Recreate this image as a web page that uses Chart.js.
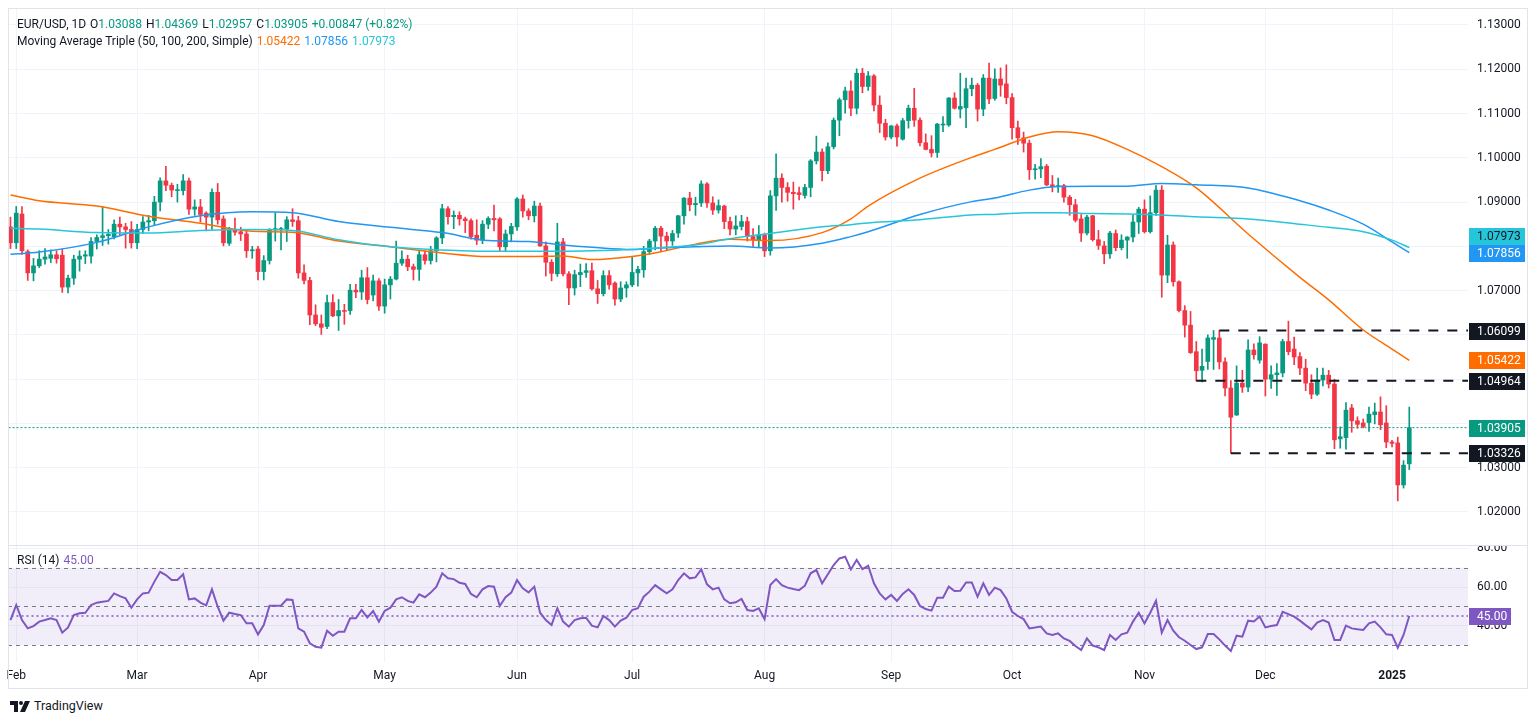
<!DOCTYPE html>
<html lang="en">
<head>
<meta charset="utf-8">
<title>EUR/USD, 1D</title>
<script src="https://cdn.jsdelivr.net/npm/chart.js@4.4.1/dist/chart.umd.min.js"></script>
<style>
  html, body { margin: 0; padding: 0; background: #ffffff; }
  body { position: relative; width: 1536px; height: 723px; overflow: hidden;
         font-family: Roboto, "Noto Sans", sans-serif; color: #131722; }
  .pane { position: absolute; left: 0; width: 1536px; }
  #mainPane { top: 0; height: 546px; }
  #rsiPane { top: 546px; height: 144px; }
  #frame { position: absolute; left: 8px; top: 8px; width: 1518px; height: 679px;
           border: 1px solid #e0e3eb; pointer-events: none; }
  #split { position: absolute; left: 8px; top: 545px; width: 1519px; height: 1px; background: #e0e3eb; }
  .legend { position: absolute; left: 17px; font-size: 12px; line-height: 16px; white-space: nowrap;
            display: flex; gap: 4px; }
  #logo { position: absolute; left: 10px; top: 698px; font-size: 12.5px; line-height: 16px;
          display: flex; align-items: center; gap: 4px; }
</style>
</head>
<body>
<div class="pane" id="mainPane"><canvas id="mainChart"></canvas></div>
<div class="pane" id="rsiPane"><canvas id="rsiChart"></canvas></div>
<div id="frame"></div>
<div id="split"></div>
<div class="legend" id="legendPrice" style="top:16px"></div>
<div class="legend" id="legendMa" style="top:33px"></div>
<div class="legend" id="legendRsi" style="top:552px"></div>
<div id="logo">
  <svg width="20" height="11" viewBox="0 0 20 11"><path d="M0 0h8v11H4V4H0z" fill="#131722"/><circle cx="11" cy="2" r="2" fill="#131722"/><path d="M15 0h5l-5 11h-5z" fill="#131722"/></svg>
  <span>TradingView</span>
</div>
<script>
// daily candles, one per weekday from 31 Jan 2024 to 6 Jan 2025
const opens = [
  1.0844, 1.0808, 1.0873, 1.0788, 1.0740, 1.0756, 1.0771, 1.0773, 1.0781, 1.0780,
  1.0708, 1.0728, 1.0771, 1.0778, 1.0778, 1.0811, 1.0820, 1.0824, 1.0822, 1.0850,
  1.0844, 1.0838, 1.0808, 1.0838, 1.0855, 1.0858, 1.0900, 1.0948, 1.0938, 1.0926,
  1.0926, 1.0948, 1.0884, 1.0889, 1.0875, 1.0866, 1.0922, 1.0862, 1.0807, 1.0838,
  1.0833, 1.0828, 1.0790, 1.0794, 1.0743, 1.0768, 1.0837, 1.0838, 1.0839, 1.0860,
  1.0858, 1.0740, 1.0723, 1.0645, 1.0625, 1.0619, 1.0673, 1.0643, 1.0655, 1.0655,
  1.0701, 1.0697, 1.0729, 1.0690, 1.0722, 1.0665, 1.0713, 1.0726, 1.0762, 1.0771,
  1.0754, 1.0748, 1.0781, 1.0768, 1.0790, 1.0819, 1.0885, 1.0867, 1.0870, 1.0862,
  1.0858, 1.0825, 1.0814, 1.0850, 1.0863, 1.0862, 1.0799, 1.0828, 1.0844, 1.0907,
  1.0880, 1.0869, 1.0891, 1.0801, 1.0764, 1.0738, 1.0810, 1.0738, 1.0706, 1.0736,
  1.0741, 1.0745, 1.0704, 1.0693, 1.0734, 1.0717, 1.0681, 1.0706, 1.0713, 1.0740,
  1.0747, 1.0788, 1.0812, 1.0841, 1.0823, 1.0812, 1.0830, 1.0869, 1.0909, 1.0894,
  1.0898, 1.0941, 1.0898, 1.0882, 1.0891, 1.0856, 1.0839, 1.0845, 1.0856, 1.0822,
  1.0815, 1.0826, 1.0790, 1.0914, 1.0954, 1.0933, 1.0922, 1.0921, 1.0915, 1.0933,
  1.0993, 1.1013, 1.0971, 1.1025, 1.1085, 1.1131, 1.1151, 1.1112, 1.1191, 1.1161,
  1.1185, 1.1119, 1.1078, 1.1047, 1.1072, 1.1042, 1.1084, 1.1112, 1.1085, 1.1034,
  1.1019, 1.1012, 1.1074, 1.1074, 1.1135, 1.1110, 1.1113, 1.1156, 1.1164, 1.1110,
  1.1180, 1.1134, 1.1178, 1.1167, 1.1136, 1.1068, 1.1045, 1.1033, 1.0973, 1.0975,
  1.0981, 1.0939, 1.0935, 1.0937, 1.0911, 1.0894, 1.0862, 1.0830, 1.0869, 1.0815,
  1.0801, 1.0783, 1.0829, 1.0797, 1.0814, 1.0821, 1.0855, 1.0884, 1.0833, 1.0876,
  1.0927, 1.0735, 1.0803, 1.0720, 1.0655, 1.0622, 1.0562, 1.0520, 1.0540, 1.0590,
  1.0593, 1.0539, 1.0480, 1.0419, 1.0491, 1.0482, 1.0566, 1.0543, 1.0579, 1.0500,
  1.0510, 1.0514, 1.0585, 1.0568, 1.0551, 1.0525, 1.0491, 1.0466, 1.0498, 1.0509,
  1.0489, 1.0365, 1.0368, 1.0435, 1.0406, 1.0401, 1.0402, 1.0420, 1.0426, 1.0401,
  1.0358, 1.0356, 1.0261, 1.03088
];
const highs = [
  1.0866, 1.0890, 1.0890, 1.0792, 1.0773, 1.0790, 1.0795, 1.0792, 1.0790, 1.0794,
  1.0735, 1.0780, 1.0790, 1.0790, 1.0820, 1.0826, 1.0889, 1.0838, 1.0860, 1.0866,
  1.0852, 1.0856, 1.0850, 1.0867, 1.0870, 1.0913, 1.0955, 1.0981, 1.0943, 1.0940,
  1.0962, 1.0954, 1.0905, 1.0906, 1.0878, 1.0930, 1.0942, 1.0869, 1.0843, 1.0864,
  1.0843, 1.0836, 1.0800, 1.0800, 1.0779, 1.0840, 1.0876, 1.0843, 1.0867, 1.0885,
  1.0868, 1.0758, 1.0730, 1.0668, 1.0645, 1.0690, 1.0691, 1.0680, 1.0669, 1.0714,
  1.0714, 1.0746, 1.0752, 1.0735, 1.0727, 1.0726, 1.0732, 1.0812, 1.0790, 1.0780,
  1.0760, 1.0790, 1.0790, 1.0800, 1.0822, 1.0895, 1.0890, 1.0880, 1.0878, 1.0866,
  1.0862, 1.0860, 1.0858, 1.0867, 1.0893, 1.0865, 1.0837, 1.0852, 1.0910, 1.0916,
  1.0885, 1.0902, 1.0898, 1.0810, 1.0770, 1.0852, 1.0818, 1.0743, 1.0746, 1.0760,
  1.0761, 1.0762, 1.0723, 1.0745, 1.0745, 1.0720, 1.0720, 1.0720, 1.0776, 1.0755,
  1.0800, 1.0816, 1.0845, 1.0845, 1.0832, 1.0836, 1.0870, 1.0910, 1.0922, 1.0911,
  1.0948, 1.0944, 1.0912, 1.0905, 1.0893, 1.0866, 1.0869, 1.0870, 1.0866, 1.0840,
  1.0847, 1.0830, 1.0926, 1.1009, 1.0964, 1.0944, 1.0945, 1.0934, 1.0940, 1.0996,
  1.1049, 1.1020, 1.1034, 1.1090, 1.1135, 1.1160, 1.1174, 1.1201, 1.1202, 1.1195,
  1.1188, 1.1140, 1.1087, 1.1073, 1.1076, 1.1089, 1.1119, 1.1157, 1.1090, 1.1054,
  1.1050, 1.1078, 1.1093, 1.1136, 1.1147, 1.1191, 1.1180, 1.1180, 1.1168, 1.1188,
  1.1214, 1.1201, 1.1203, 1.1210, 1.1145, 1.1083, 1.1058, 1.1040, 1.0985, 1.0998,
  1.0985, 1.0960, 1.0954, 1.0940, 1.0915, 1.0906, 1.0872, 1.0870, 1.0870, 1.0836,
  1.0811, 1.0834, 1.0837, 1.0826, 1.0822, 1.0871, 1.0888, 1.0905, 1.0914, 1.0937,
  1.0937, 1.0825, 1.0810, 1.0722, 1.0666, 1.0653, 1.0585, 1.0568, 1.0600, 1.0610,
  1.0610, 1.0548, 1.0497, 1.0530, 1.0520, 1.0589, 1.0580, 1.0596, 1.0580, 1.0530,
  1.0535, 1.0590, 1.0631, 1.0595, 1.0560, 1.0545, 1.0510, 1.0525, 1.0525, 1.0520,
  1.0500, 1.0392, 1.0447, 1.0443, 1.0415, 1.0410, 1.0437, 1.0446, 1.0460, 1.0440,
  1.0362, 1.0369, 1.0316, 1.04369
];
const lows = [
  1.0795, 1.0795, 1.0782, 1.0723, 1.0722, 1.0752, 1.0760, 1.0763, 1.0762, 1.0696,
  1.0695, 1.0714, 1.0744, 1.0761, 1.0762, 1.0794, 1.0802, 1.0805, 1.0817, 1.0826,
  1.0796, 1.0796, 1.0795, 1.0830, 1.0835, 1.0848, 1.0880, 1.0926, 1.0912, 1.0900,
  1.0916, 1.0872, 1.0870, 1.0855, 1.0835, 1.0838, 1.0850, 1.0801, 1.0802, 1.0825,
  1.0813, 1.0775, 1.0773, 1.0724, 1.0724, 1.0760, 1.0812, 1.0792, 1.0811, 1.0845,
  1.0728, 1.0715, 1.0623, 1.0621, 1.0601, 1.0614, 1.0641, 1.0610, 1.0624, 1.0646,
  1.0684, 1.0680, 1.0670, 1.0677, 1.0655, 1.0649, 1.0681, 1.0724, 1.0757, 1.0745,
  1.0724, 1.0723, 1.0760, 1.0760, 1.0765, 1.0806, 1.0850, 1.0840, 1.0848, 1.0831,
  1.0816, 1.0804, 1.0806, 1.0840, 1.0835, 1.0790, 1.0788, 1.0810, 1.0836, 1.0866,
  1.0860, 1.0855, 1.0800, 1.0733, 1.0722, 1.0732, 1.0733, 1.0668, 1.0690, 1.0709,
  1.0730, 1.0701, 1.0671, 1.0688, 1.0703, 1.0667, 1.0675, 1.0685, 1.0709, 1.0710,
  1.0730, 1.0782, 1.0792, 1.0790, 1.0792, 1.0802, 1.0820, 1.0850, 1.0880, 1.0870,
  1.0890, 1.0888, 1.0872, 1.0875, 1.0840, 1.0826, 1.0826, 1.0837, 1.0812, 1.0800,
  1.0799, 1.0777, 1.0780, 1.0881, 1.0900, 1.0902, 1.0884, 1.0905, 1.0909, 1.0912,
  1.0986, 1.0948, 1.0964, 1.1020, 1.1050, 1.1101, 1.1095, 1.1099, 1.1147, 1.1152,
  1.1106, 1.1057, 1.1040, 1.1043, 1.1026, 1.1040, 1.1067, 1.1071, 1.1027, 1.1018,
  1.1002, 1.1001, 1.1059, 1.1071, 1.1110, 1.1090, 1.1068, 1.1140, 1.1083, 1.1095,
  1.1122, 1.1130, 1.1139, 1.1122, 1.1042, 1.1030, 1.1013, 1.0951, 1.0952, 1.0955,
  1.0937, 1.0923, 1.0922, 1.0900, 1.0870, 1.0855, 1.0811, 1.0826, 1.0812, 1.0793,
  1.0761, 1.0773, 1.0790, 1.0792, 1.0773, 1.0810, 1.0829, 1.0830, 1.0830, 1.0870,
  1.0685, 1.0718, 1.0710, 1.0652, 1.0595, 1.0558, 1.0496, 1.0494, 1.0522, 1.0522,
  1.0523, 1.0462, 1.0333, 1.0418, 1.0470, 1.0472, 1.0545, 1.0536, 1.0462, 1.0479,
  1.0463, 1.0505, 1.0555, 1.0533, 1.0510, 1.0474, 1.0456, 1.0463, 1.0485, 1.0480,
  1.0343, 1.0344, 1.0342, 1.0380, 1.0389, 1.0390, 1.0382, 1.0399, 1.0386, 1.0345,
  1.0347, 1.0225, 1.0254, 1.02957
];
const closes = [
  1.0808, 1.0875, 1.0790, 1.0740, 1.0756, 1.0771, 1.0776, 1.0781, 1.0772, 1.0708,
  1.0728, 1.0771, 1.0778, 1.0781, 1.0811, 1.0820, 1.0824, 1.0827, 1.0850, 1.0844,
  1.0838, 1.0808, 1.0838, 1.0855, 1.0858, 1.0900, 1.0948, 1.0938, 1.0927, 1.0928,
  1.0948, 1.0884, 1.0889, 1.0872, 1.0866, 1.0922, 1.0860, 1.0808, 1.0840, 1.0832,
  1.0828, 1.0790, 1.0792, 1.0743, 1.0768, 1.0837, 1.0840, 1.0840, 1.0860, 1.0856,
  1.0740, 1.0723, 1.0645, 1.0625, 1.0617, 1.0673, 1.0643, 1.0655, 1.0653, 1.0701,
  1.0697, 1.0729, 1.0680, 1.0722, 1.0665, 1.0713, 1.0726, 1.0762, 1.0771, 1.0754,
  1.0748, 1.0781, 1.0768, 1.0790, 1.0819, 1.0885, 1.0867, 1.0870, 1.0862, 1.0858,
  1.0822, 1.0814, 1.0850, 1.0863, 1.0860, 1.0799, 1.0828, 1.0845, 1.0907, 1.0880,
  1.0869, 1.0891, 1.0801, 1.0764, 1.0739, 1.0810, 1.0738, 1.0706, 1.0736, 1.0741,
  1.0745, 1.0704, 1.0693, 1.0734, 1.0713, 1.0681, 1.0706, 1.0713, 1.0741, 1.0748,
  1.0788, 1.0812, 1.0841, 1.0823, 1.0812, 1.0829, 1.0869, 1.0909, 1.0894, 1.0897,
  1.0941, 1.0898, 1.0882, 1.0892, 1.0856, 1.0839, 1.0846, 1.0856, 1.0822, 1.0815,
  1.0826, 1.0790, 1.0914, 1.0954, 1.0933, 1.0922, 1.0919, 1.0917, 1.0933, 1.0993,
  1.1013, 1.0971, 1.1025, 1.1085, 1.1131, 1.1151, 1.1112, 1.1191, 1.1161, 1.1185,
  1.1119, 1.1078, 1.1047, 1.1072, 1.1047, 1.1084, 1.1112, 1.1085, 1.1034, 1.1019,
  1.1011, 1.1076, 1.1076, 1.1135, 1.1112, 1.1116, 1.1156, 1.1164, 1.1110, 1.1180,
  1.1133, 1.1178, 1.1164, 1.1136, 1.1068, 1.1045, 1.1033, 1.0973, 1.0975, 1.0980,
  1.0939, 1.0935, 1.0937, 1.0911, 1.0894, 1.0859, 1.0830, 1.0866, 1.0815, 1.0802,
  1.0783, 1.0830, 1.0797, 1.0814, 1.0821, 1.0855, 1.0884, 1.0833, 1.0876, 1.0927,
  1.0735, 1.0803, 1.0720, 1.0655, 1.0622, 1.0560, 1.0519, 1.0529, 1.0593, 1.0594,
  1.0539, 1.0480, 1.0414, 1.0491, 1.0482, 1.0566, 1.0555, 1.0582, 1.0500, 1.0510,
  1.0514, 1.0585, 1.0562, 1.0550, 1.0525, 1.0491, 1.0466, 1.0498, 1.0509, 1.0489,
  1.0363, 1.0370, 1.0430, 1.0406, 1.0398, 1.0393, 1.0421, 1.0426, 1.0397, 1.0358,
  1.0355, 1.0261, 1.03058, 1.03905
];

// RSI(14), one value per candle
const rsi14 = [
  42.9, 50.7, 42.9, 38.6, 39.8, 42.1, 42.9, 43.8, 42.9, 36.4,
  39.1, 45.5, 46.4, 46.7, 50.7, 51.9, 52.4, 52.8, 56.7, 55.3,
  54.1, 49.3, 53.6, 56.7, 57.1, 62.8, 67.9, 66.2, 63.6, 63.6,
  66.6, 53.6, 54.1, 51.9, 50.5, 58.8, 49.8, 42.6, 46.7, 46.0,
  45.5, 41.2, 41.2, 35.5, 40.3, 50.3, 50.3, 50.3, 53.6, 53.3,
  38.6, 36.9, 30.9, 29.1, 28.6, 37.4, 34.8, 36.9, 36.9, 43.8,
  43.8, 48.1, 44.3, 47.6, 42.1, 47.6, 49.3, 53.6, 54.7, 52.8,
  51.9, 56.2, 54.7, 57.1, 60.2, 67.1, 64.5, 64.1, 62.2, 61.6,
  56.4, 54.7, 58.8, 60.5, 60.2, 50.2, 54.7, 57.1, 63.6, 59.3,
  57.2, 60.2, 46.7, 42.9, 40.3, 49.0, 42.1, 39.5, 42.9, 43.8,
  44.1, 40.0, 39.1, 45.0, 42.9, 39.5, 42.6, 44.1, 48.1, 49.0,
  55.0, 57.6, 61.0, 58.8, 56.7, 58.8, 63.6, 67.1, 64.5, 65.0,
  69.1, 61.4, 58.8, 59.7, 53.6, 51.6, 52.1, 53.8, 48.1, 47.6,
  49.0, 43.4, 61.0, 64.1, 61.0, 59.7, 59.0, 58.4, 60.7, 67.1,
  68.8, 61.9, 66.6, 71.4, 74.8, 75.7, 69.1, 74.0, 69.3, 71.0,
  61.9, 56.7, 53.6, 55.9, 52.8, 56.4, 58.8, 55.9, 50.2, 48.6,
  47.8, 54.5, 54.5, 60.2, 57.9, 58.1, 62.4, 62.4, 55.0, 61.9,
  55.9, 59.7, 58.4, 54.1, 47.2, 45.0, 43.4, 38.6, 39.0, 39.5,
  36.0, 35.2, 36.0, 33.4, 32.1, 29.5, 27.4, 33.4, 29.7, 28.8,
  27.4, 35.2, 32.6, 35.5, 36.4, 42.1, 46.7, 41.2, 46.7, 52.9,
  36.4, 42.9, 37.4, 34.0, 32.2, 30.0, 27.9, 28.8, 35.7, 35.7,
  32.9, 29.7, 26.9, 34.8, 34.3, 42.6, 42.2, 44.7, 39.1, 39.8,
  40.3, 47.2, 46.0, 44.7, 42.6, 40.3, 38.1, 41.6, 42.9, 41.6,
  32.6, 32.6, 40.0, 38.6, 38.1, 37.8, 41.2, 42.1, 39.1, 35.5,
  35.2, 28.6, 35.2, 45.00
];

// simple moving averages at these candle numbers
const maBars = [0, 5, 15, 24, 33, 42, 49, 57, 66, 75, 83, 90, 96, 101, 108, 113, 119, 125, 132,
                141, 146, 149, 158, 167, 171, 177, 182, 188, 194, 200, 206, 215, 224, 229, 235, 240, 243];
const sma50 = [1.0916, 1.0903, 1.0891, 1.0868, 1.0852, 1.0834, 1.0832, 1.0812, 1.0799, 1.0785, 1.0777, 1.0777,
               1.0778, 1.0770, 1.0777, 1.0788, 1.0805, 1.0816, 1.0813, 1.0831, 1.0862, 1.0891, 1.0954, 1.1001,
               1.1019, 1.1047, 1.1059, 1.1050, 1.1019, 1.0980, 1.0932, 1.0828, 1.0730, 1.0679, 1.0611, 1.0568, 1.05422];
const sma100 = [1.0782, 1.0787, 1.0809, 1.0844, 1.0869, 1.0878, 1.0876, 1.0856, 1.0843, 1.0831, 1.0813, 1.0811,
                1.0803, 1.0798, 1.0793, 1.0796, 1.0799, 1.0801, 1.0796, 1.0807, 1.0822, 1.0833, 1.0872, 1.0901,
                1.0909, 1.0927, 1.0935, 1.0936, 1.0936, 1.0942, 1.0939, 1.0932, 1.0903, 1.0882, 1.0850, 1.0810, 1.07856];
const sma200 = [1.0841, 1.0839, 1.0831, 1.0830, 1.0836, 1.0838, 1.0836, 1.0815, 1.0799, 1.0792, 1.0789, 1.0789,
                1.0789, 1.0790, 1.0793, 1.0797, 1.0803, 1.0817, 1.0829, 1.0844, 1.0849, 1.0853, 1.0860, 1.0871,
                1.0872, 1.0876, 1.0876, 1.0874, 1.0873, 1.0871, 1.0867, 1.0862, 1.0850, 1.0843, 1.0833, 1.0814, 1.07973];

// drawn horizontal levels and the candle each one starts from
const levelValues = [1.06099, 1.04964, 1.03326];
const levelFrom = [210, 206, 212];

// first candle of each month on the time axis
const monthTicks = [1, 22, 43, 65, 88, 108, 131, 153, 174, 197, 218, 240];
const monthNames = ['Feb', 'Mar', 'Apr', 'May', 'Jun', 'Jul', 'Aug', 'Sep', 'Oct', 'Nov', 'Dec', '2025'];

const rsiLevels = [70, 50, 30];
const rsiTicks = [40, 60, 80];

const UP = '#089981';
const DOWN = '#f23645';
const GRID = '#f0f3fa';
const TEXT = '#131722';
const FONT = 'Roboto, "Noto Sans", sans-serif';
const X_MIN = -0.43;
const X_MAX = 253.2;
const TAG_H = 17;

const bars = closes.map((c, i) => i);
const last = closes.length - 1;
const candleColors = bars.map(i => closes[i] >= opens[i] ? UP : DOWN);
const fmt = v => v.toFixed(5);

// tags on the price axis
const priceTags = [
  { value: sma200[sma200.length - 1], bg: '#26c6da', fg: TEXT },
  { value: sma100[sma100.length - 1], bg: '#2196f3', fg: '#ffffff' },
  { value: levelValues[0], bg: TEXT, fg: '#ffffff' },
  { value: sma50[sma50.length - 1], bg: '#ff6d00', fg: '#ffffff' },
  { value: levelValues[1], bg: TEXT, fg: '#ffffff' },
  { value: closes[last], bg: candleColors[last], fg: '#ffffff' },
  { value: levelValues[2], bg: TEXT, fg: '#ffffff' }
];

function drawTag(ctx, x, y, w, text, bg, fg) {
  const py = Math.round(y);
  ctx.fillStyle = bg;
  ctx.fillRect(x, py - 8, w, TAG_H);
  ctx.fillStyle = fg;
  ctx.font = '12px ' + FONT;
  ctx.textAlign = 'left';
  ctx.textBaseline = 'middle';
  ctx.fillText(text, x + 8, py + 1);
}

const mainTags = {
  id: 'mainTags',
  afterDraw(chart) {
    const ctx = chart.ctx, y = chart.scales.y, x0 = chart.chartArea.right + 1;
    // bottom to top, push a tag up when it would cover the one below
    const placed = priceTags.map(t => ({ t, py: y.getPixelForValue(t.value) }))
      .sort((a, b) => b.py - a.py);
    let floor = Infinity;
    placed.forEach(p => { p.py = Math.min(p.py, floor - TAG_H); floor = p.py; });
    ctx.save();
    placed.forEach(p => drawTag(ctx, x0, p.py, 56, fmt(p.t.value), p.t.bg, p.t.fg));
    ctx.restore();
  }
};

const rsiBands = {
  id: 'rsiBands',
  beforeDatasetsDraw(chart) {
    const { ctx, chartArea: a, scales: { y } } = chart;
    const top = y.getPixelForValue(rsiLevels[0]);
    const bottom = y.getPixelForValue(rsiLevels[2]);
    ctx.save();
    ctx.fillStyle = 'rgba(126, 87, 194, 0.1)';
    ctx.fillRect(a.left, top, a.right - a.left, bottom - top);
    ctx.strokeStyle = '#787b86';
    ctx.lineWidth = 1;
    ctx.setLineDash([4, 4]);
    rsiLevels.forEach(v => {
      const py = Math.round(y.getPixelForValue(v)) + 0.5;
      ctx.beginPath();
      ctx.moveTo(a.left, py);
      ctx.lineTo(a.right, py);
      ctx.stroke();
    });
    ctx.restore();
  },
  afterDraw(chart) {
    const ctx = chart.ctx, y = chart.scales.y;
    ctx.save();
    drawTag(ctx, chart.chartArea.right + 1, y.getPixelForValue(rsi14[last]), 42,
            rsi14[last].toFixed(2), '#7e57c2', '#ffffff');
    ctx.restore();
  }
};

function maLine(values, color) {
  return {
    type: 'line',
    data: maBars.map((b, k) => ({ x: b, y: values[k] })),
    borderColor: color,
    borderWidth: 1.5,
    pointRadius: 0,
    cubicInterpolationMode: 'monotone',
    order: 5
  };
}

function flatLine(from, value, color, width, dash) {
  return {
    type: 'line',
    data: [{ x: from, y: value }, { x: X_MAX + 2, y: value }],
    borderColor: color,
    borderWidth: width,
    borderDash: dash,
    pointRadius: 0,
    order: 2
  };
}

function timeAxis(showLabels) {
  return {
    type: 'linear',
    min: X_MIN,
    max: X_MAX,
    offset: false,
    afterBuildTicks(scale) { scale.ticks = monthTicks.map(v => ({ value: v })); },
    afterFit(scale) {
      scale.height = showLabels ? 28 : 0;
      scale.paddingLeft = 0;
      scale.paddingRight = 0;
    },
    grid: { color: GRID, drawTicks: false, offset: false },
    border: { display: false },
    ticks: {
      display: showLabels,
      autoSkip: false,
      maxRotation: 0,
      padding: 7,
      color: TEXT,
      font: ctx => ({ family: FONT, size: 12,
                      weight: ctx.tick && ctx.tick.value === monthTicks[monthTicks.length - 1] ? 'bold' : 'normal' }),
      callback: v => monthNames[monthTicks.indexOf(v)]
    }
  };
}

function fitPriceAxis(scale) {
  scale.width = 68;
  scale.paddingTop = 0;
  scale.paddingBottom = 0;
}

Chart.defaults.font.family = FONT;

new Chart(document.getElementById('mainChart'), {
  type: 'bar',
  data: {
    datasets: [
      {
        data: bars.map(i => ({ x: i, y: [lows[i], highs[i]] })),
        backgroundColor: candleColors,
        grouped: false,
        barPercentage: 1,
        categoryPercentage: 1,
        maxBarThickness: 1,
        order: 10
      },
      {
        data: bars.map(i => ({ x: i, y: [opens[i], closes[i]] })),
        backgroundColor: candleColors,
        grouped: false,
        barPercentage: 1,
        categoryPercentage: 1,
        maxBarThickness: 4,
        minBarLength: 1,
        order: 9
      },
      maLine(sma200, '#26c6da'),
      maLine(sma100, '#2196f3'),
      maLine(sma50, '#ff6d00'),
      ...levelValues.map((v, k) => flatLine(levelFrom[k], v, TEXT, 2, [10, 9])),
      flatLine(X_MIN - 2, closes[last], candleColors[last], 1, [2, 2])
    ]
  },
  options: {
    responsive: true,
    maintainAspectRatio: false,
    animation: false,
    events: [],
    layout: { padding: { left: 8, top: 9, right: 0, bottom: 1 } },
    plugins: { legend: { display: false }, tooltip: { enabled: false } },
    scales: {
      x: timeAxis(false),
      y: {
        position: 'right',
        min: 1.01254,
        max: 1.13361,
        afterFit: fitPriceAxis,
        grid: { color: GRID, drawTicks: false },
        border: { display: false },
        ticks: {
          stepSize: 0.01,
          includeBounds: false,
          padding: 9,
          color: TEXT,
          font: { size: 12 },
          callback: v => priceTags.some(t => Math.abs(t.value - v) < 0.003) ? '' : fmt(v)
        }
      }
    }
  },
  plugins: [mainTags]
});

new Chart(document.getElementById('rsiChart'), {
  type: 'line',
  data: {
    datasets: [
      {
        data: bars.map(i => ({ x: i, y: rsi14[i] })),
        borderColor: '#7e57c2',
        borderWidth: 2,
        pointRadius: 0,
        order: 2
      },
      {
        data: [{ x: X_MIN - 2, y: rsi14[last] }, { x: X_MAX + 2, y: rsi14[last] }],
        borderColor: '#7e57c2',
        borderWidth: 1.5,
        borderDash: [2, 3],
        pointRadius: 0,
        order: 1
      }
    ]
  },
  options: {
    responsive: true,
    maintainAspectRatio: false,
    animation: false,
    events: [],
    layout: { padding: { left: 8, top: 0, right: 0, bottom: 0 } },
    plugins: { legend: { display: false }, tooltip: { enabled: false } },
    scales: {
      x: timeAxis(true),
      y: {
        position: 'right',
        min: 21.2,
        max: 81.23,
        afterBuildTicks(scale) { scale.ticks = rsiTicks.map(v => ({ value: v })); },
        afterFit: fitPriceAxis,
        grid: { color: GRID, drawTicks: false },
        border: { display: false },
        ticks: {
          padding: 9,
          color: TEXT,
          font: { size: 12 },
          callback: v => v.toFixed(2)
        }
      }
    }
  },
  plugins: [rsiBands]
});

// legends
const change = closes[last] - closes[last - 1];
const sign = change >= 0 ? '+' : '';
const valColor = candleColors[last];
const ohlc = [['O', opens], ['H', highs], ['L', lows], ['C', closes]];
document.getElementById('legendPrice').innerHTML =
  '<span>EUR/USD, 1D</span>' +
  ohlc.map(([k, arr]) => `<span>${k}<span style="color:${valColor}">${fmt(arr[last])}</span></span>`).join('') +
  `<span style="color:${valColor}">${sign}${fmt(change)} (${sign}${(change / closes[last - 1] * 100).toFixed(2)}%)</span>`;
document.getElementById('legendMa').innerHTML =
  '<span>Moving Average Triple (50, 100, 200, Simple)</span>' +
  `<span style="color:#ff6d00">${fmt(sma50[sma50.length - 1])}</span>` +
  `<span style="color:#2196f3">${fmt(sma100[sma100.length - 1])}</span>` +
  `<span style="color:#26c6da">${fmt(sma200[sma200.length - 1])}</span>`;
document.getElementById('legendRsi').innerHTML =
  `<span>RSI (14)</span><span style="color:#7e57c2">${rsi14[last].toFixed(2)}</span>`;
</script>
</body>
</html>
